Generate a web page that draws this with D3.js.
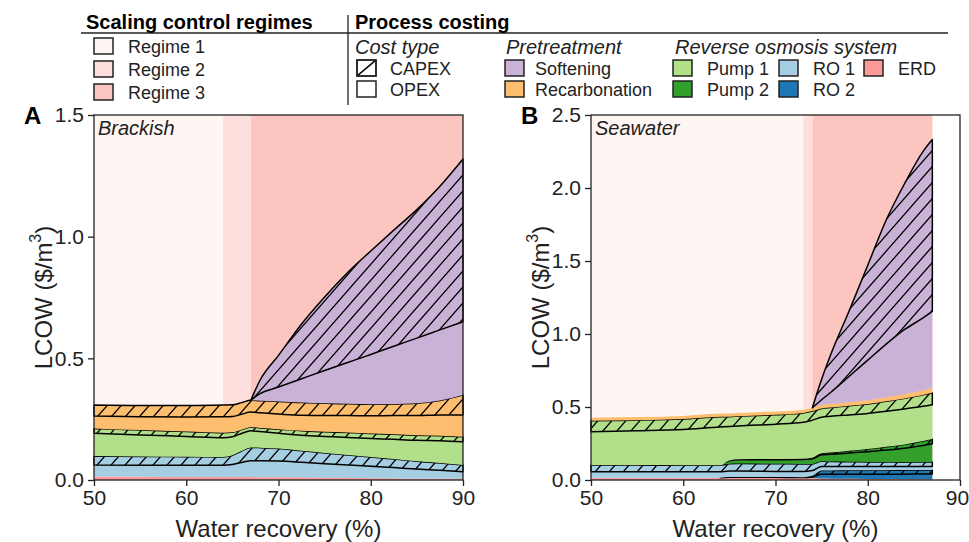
<!DOCTYPE html>
<html>
<head>
<meta charset="utf-8">
<script src="https://cdn.jsdelivr.net/npm/d3@7"></script>
<style>
body { margin: 0; background: #fff; }
text { font-family: "Liberation Sans", Arial, sans-serif; }
</style>
</head>
<body>
<div class="chart"></div>
<script>
const width = 969,
      height = 542;

// ---- panel A: brackish ----
const recA        = [50, 55, 60, 64, 65, 66, 67, 68, 70, 72.5, 75, 77.5, 80, 82.5, 85, 87.5, 90];
const erdA        = [0.014, 0.013, 0.012, 0.012, 0.012, 0.012, 0.012, 0.011, 0.011, 0.010, 0.009, 0.008, 0.007, 0.006, 0.005, 0.005, 0.004];
const ro1OpexA    = [0.048, 0.048, 0.049, 0.049, 0.052, 0.060, 0.067, 0.068, 0.067, 0.063, 0.058, 0.054, 0.050, 0.045, 0.040, 0.035, 0.030];
const ro1CapexA   = [0.037, 0.036, 0.035, 0.034, 0.038, 0.047, 0.055, 0.054, 0.051, 0.047, 0.044, 0.041, 0.038, 0.035, 0.032, 0.030, 0.028];
const pump1OpexA  = [0.093, 0.088, 0.083, 0.079, 0.076, 0.072, 0.068, 0.066, 0.063, 0.064, 0.068, 0.072, 0.076, 0.081, 0.086, 0.091, 0.095];
const pump1CapexA = [0.020, 0.020, 0.020, 0.020, 0.018, 0.016, 0.015, 0.015, 0.017, 0.018, 0.019, 0.020, 0.020, 0.021, 0.021, 0.021, 0.021];
const recarbOpexA = [0.051, 0.055, 0.060, 0.066, 0.065, 0.063, 0.062, 0.062, 0.062, 0.064, 0.067, 0.070, 0.073, 0.077, 0.081, 0.085, 0.089];
const recarbCapexA= [0.045, 0.046, 0.047, 0.048, 0.048, 0.048, 0.049, 0.050, 0.052, 0.052, 0.050, 0.048, 0.047, 0.047, 0.050, 0.060, 0.082];
const softOpexA   = [0, 0, 0, 0, 0, 0, 0, 0.029, 0.059, 0.098, 0.135, 0.170, 0.205, 0.238, 0.268, 0.290, 0.301];
const softCapexA  = [0, 0, 0, 0, 0, 0, 0, 0.055, 0.130, 0.225, 0.302, 0.370, 0.425, 0.477, 0.528, 0.590, 0.669];

// ---- panel B: seawater ----
const recB        = [50, 55, 60, 64, 65, 66, 70, 73, 74, 75, 76, 78, 80, 82, 84, 86, 87];
const erdB        = [0.016, 0.016, 0.016, 0.016, 0.015, 0.015, 0.014, 0.013, 0.013, 0.010, 0.009, 0.008, 0.007, 0.006, 0.005, 0.005, 0.004];
const ro2OpexB    = [0, 0, 0, 0, 0.004, 0.004, 0.004, 0.004, 0.008, 0.030, 0.031, 0.032, 0.033, 0.034, 0.035, 0.036, 0.037];
const ro2CapexB   = [0, 0, 0, 0, 0.002, 0.002, 0.002, 0.002, 0.008, 0.025, 0.025, 0.026, 0.027, 0.027, 0.028, 0.028, 0.028];
const ro1OpexB    = [0.041, 0.041, 0.041, 0.041, 0.040, 0.040, 0.039, 0.039, 0.036, 0.028, 0.027, 0.026, 0.025, 0.025, 0.024, 0.024, 0.024];
const ro1CapexB   = [0.046, 0.045, 0.044, 0.044, 0.050, 0.052, 0.052, 0.052, 0.045, 0.035, 0.034, 0.033, 0.032, 0.031, 0.030, 0.030, 0.030];
const pump2OpexB  = [0, 0, 0, 0, 0.020, 0.025, 0.028, 0.030, 0.035, 0.045, 0.050, 0.060, 0.070, 0.082, 0.096, 0.114, 0.125];
const pump2CapexB = [0, 0, 0, 0, 0.003, 0.004, 0.005, 0.006, 0.008, 0.010, 0.012, 0.015, 0.018, 0.022, 0.026, 0.030, 0.032];
const pump1OpexB  = [0.228, 0.235, 0.245, 0.262, 0.232, 0.228, 0.238, 0.249, 0.257, 0.247, 0.248, 0.246, 0.244, 0.244, 0.243, 0.238, 0.236];
const pump1CapexB = [0.075, 0.073, 0.072, 0.070, 0.068, 0.067, 0.065, 0.064, 0.062, 0.060, 0.060, 0.062, 0.064, 0.068, 0.072, 0.078, 0.082];
const recarbOpexB = [0.021, 0.021, 0.021, 0.022, 0.022, 0.022, 0.022, 0.022, 0.023, 0.024, 0.024, 0.025, 0.026, 0.028, 0.030, 0.032, 0.034];
const softOpexB   = [0, 0, 0, 0, 0, 0, 0, 0, 0, 0.036, 0.081, 0.178, 0.275, 0.364, 0.442, 0.496, 0.523];
const softCapexB  = [0, 0, 0, 0, 0, 0, 0, 0, 0, 0.140, 0.260, 0.450, 0.650, 0.850, 1.000, 1.140, 1.177];

// regime boundaries (water recovery %)
const regimesA = [50, 64, 67, 90];
const regimesB = [50, 73, 74, 87];

const xTicks  = [50, 60, 70, 80, 90];
const yTicksA = [0, 0.5, 1.0, 1.5];
const yTicksB = [0, 0.5, 1.0, 1.5, 2.0, 2.5];

const regimeLabels = ["Regime 1", "Regime 2", "Regime 3"];
const regimeColors = ["#fff5f2", "#fde0dd", "#fcc5c0"];

const col = {
    soft: "#cab2d6", recarb: "#fdbf6f", pump1: "#b2df8a", pump2: "#33a02c",
    ro1: "#a6cee3", ro2: "#1f78b4", erd: "#fb9a99"
};

const svg = d3.select(".chart")
              .append("svg")
              .attr("width", width)
              .attr("height", height)
              .attr("viewBox", [0, 0, width, height]);

// hatch pattern (CAPEX)
const defs = svg.append("defs");
const hw = 14, hh = 16;
defs.append("pattern")
    .attr("id", "hatch")
    .attr("patternUnits", "userSpaceOnUse")
    .attr("width", hw).attr("height", hh)
    .append("path")
    .attr("d", `M0,${hh}L${hw},0M${-hw/4},${hh/4}L${hw/4},${-hh/4}M${3*hw/4},${5*hh/4}L${5*hw/4},${3*hh/4}`)
    .attr("stroke", "#000").attr("stroke-width", 1.3);
defs.append("pattern")
    .attr("id", "hatchLeg")
    .attr("patternUnits", "userSpaceOnUse")
    .attr("x", 357).attr("y", 60)
    .attr("width", 19).attr("height", 16)
    .append("path")
    .attr("d", "M0,16L19,0")
    .attr("stroke", "#000").attr("stroke-width", 1.5);

function build_panel(p){
    const x = d3.scaleLinear().domain([50, 90]).range(p.xr);
    const y = d3.scaleLinear().domain(p.yd).range([480, 115]);
    const g = svg.append("g").classed("panel", true);

    // regime bands
    g.selectAll("rect.regime").data(d3.range(3)).enter().append("rect")
     .classed("regime", true)
     .attr("x", i => x(p.regimes[i]))
     .attr("width", i => x(p.regimes[i+1]) - x(p.regimes[i]))
     .attr("y", 115).attr("height", 365)
     .attr("fill", i => regimeColors[i]);

    const rows = p.rec.map((r, i) => {
        const o = {x: r};
        p.layers.forEach((l, j) => o[j] = l.v[i]);
        return o;
    });
    const series = d3.stack().keys(p.layers.map((l, j) => j))(rows);

    series.forEach((s, j) => {
        const l = p.layers[j];
        const nz = l.v.map((v, i) => v > 0 ? i : -1).filter(i => i >= 0);
        const start = Math.max(0, nz[0] - 1), stop = Math.min(l.v.length - 1, nz[nz.length - 1] + 1);
        const area = d3.area()
            .defined((d, i) => i >= start && i <= stop)
            .x(d => x(d.data.x))
            .y0(d => y(d[0]))
            .y1(d => y(d[1]))
            .curve(d3.curveMonotoneX);
        g.append("path").attr("d", area(s)).attr("fill", l.c);
        if (l.capex){
            g.append("path").attr("d", area(s))
             .attr("fill", "url(#hatch)")
             .attr("stroke", "#000").attr("stroke-width", 1.5)
             .attr("stroke-linejoin", "round");
        }
    });

    // frame
    g.append("rect").attr("x", p.xr[0]).attr("y", 115)
     .attr("width", p.xr[1] - p.xr[0]).attr("height", 365)
     .attr("fill", "none").attr("stroke", "#222").attr("stroke-width", 1.3);

    const ax = g.append("g").attr("transform", "translate(0,480)")
        .call(d3.axisBottom(x).tickValues(xTicks).tickSize(6).tickPadding(4).tickSizeOuter(0));
    const ay = g.append("g").attr("transform", `translate(${p.xr[0]},0)`)
        .call(d3.axisLeft(y).tickValues(p.yTicks).tickFormat(d3.format(".1f")).tickSize(6).tickPadding(4).tickSizeOuter(0));
    [ax, ay].forEach(a => {
        a.select(".domain").remove();
        a.selectAll("line").attr("stroke", "#222").attr("stroke-width", 1.3);
        a.selectAll("text").attr("font-size", 21).attr("fill", "#222")
         .style("font-family", "'Liberation Sans', Arial, sans-serif");
    });
    // keep the last tick label inside the picture
    if (p.xr[1] > 950) ax.selectAll("text").filter(d => d === 90).attr("dx", -3);

    const xm = (p.xr[0] + p.xr[1]) / 2;
    g.append("text").attr("x", xm).attr("y", 537).attr("text-anchor", "middle")
     .attr("font-size", 24).attr("fill", "#222").text("Water recovery (%)");

    const yl = g.append("text")
     .attr("transform", `translate(${p.xr[0] - 42},297.5)rotate(-90)`)
     .attr("text-anchor", "middle").attr("font-size", 24).attr("fill", "#222");
    yl.append("tspan").text("LCOW ($/m");
    yl.append("tspan").attr("dy", -11).attr("font-size", 16).text("3");
    yl.append("tspan").attr("dy", 11).text(")");

    g.append("text").attr("x", p.xr[0] - 70).attr("y", 124)
     .attr("font-size", 24).attr("font-weight", "bold").text(p.letter);
    g.append("text").attr("x", p.xr[0] + 4).attr("y", 135)
     .attr("font-size", 20).attr("font-style", "italic").attr("fill", "#222").text(p.title);
}

build_panel({
    letter: "A", title: "Brackish", xr: [94, 463], yd: [0, 1.5], yTicks: yTicksA,
    rec: recA, regimes: regimesA,
    layers: [
        {v: erdA, c: col.erd},
        {v: ro1OpexA, c: col.ro1},
        {v: ro1CapexA, c: col.ro1, capex: true},
        {v: pump1OpexA, c: col.pump1},
        {v: pump1CapexA, c: col.pump1, capex: true},
        {v: recarbOpexA, c: col.recarb},
        {v: recarbCapexA, c: col.recarb, capex: true},
        {v: softOpexA, c: col.soft},
        {v: softCapexA, c: col.soft, capex: true}
    ]
});

build_panel({
    letter: "B", title: "Seawater", xr: [591, 960], yd: [0, 2.5], yTicks: yTicksB,
    rec: recB, regimes: regimesB,
    layers: [
        {v: erdB, c: col.erd},
        {v: ro2OpexB, c: col.ro2},
        {v: ro2CapexB, c: col.ro2, capex: true},
        {v: ro1OpexB, c: col.ro1},
        {v: ro1CapexB, c: col.ro1, capex: true},
        {v: pump2OpexB, c: col.pump2},
        {v: pump2CapexB, c: col.pump2, capex: true},
        {v: pump1OpexB, c: col.pump1},
        {v: pump1CapexB, c: col.pump1, capex: true},
        {v: recarbOpexB, c: col.recarb},
        {v: softOpexB, c: col.soft},
        {v: softCapexB, c: col.soft, capex: true}
    ]
});

// ---- legend ----
var leg = svg.append("g").classed("legend", true);
leg.append("line").attr("x1", 81).attr("x2", 948).attr("y1", 33).attr("y2", 33)
   .attr("stroke", "#222").attr("stroke-width", 1.3);
leg.append("line").attr("x1", 348).attr("x2", 348).attr("y1", 15).attr("y2", 105)
   .attr("stroke", "#222").attr("stroke-width", 1.3);
leg.append("text").attr("x", 86).attr("y", 29).attr("font-size", 20).attr("font-weight", "bold").text("Scaling control regimes");
leg.append("text").attr("x", 355).attr("y", 29).attr("font-size", 20).attr("font-weight", "bold").text("Process costing");

function legBox(x, y, fill, label, tx){
    leg.append("rect").attr("x", x).attr("y", y).attr("width", 19).attr("height", 16)
       .attr("fill", fill).attr("stroke", "#222").attr("stroke-width", 1.5);
    leg.append("text").attr("x", tx).attr("y", y + 15).attr("font-size", 18).attr("fill", "#222").text(label);
}

regimeLabels.forEach((r, i) => legBox(94, 38 + i * 23, regimeColors[i], r, 128));

[["Cost type", 355], ["Pretreatment", 506], ["Reverse osmosis system", 675]].forEach(h => {
    leg.append("text").attr("x", h[1]).attr("y", 54).attr("font-size", 20)
       .attr("font-style", "italic").attr("fill", "#222").text(h[0]);
});

legBox(357, 60, "#fff", "CAPEX", 390);
leg.append("rect").attr("x", 357).attr("y", 60).attr("width", 19).attr("height", 16)
   .attr("fill", "url(#hatchLeg)").attr("stroke", "#222").attr("stroke-width", 1.5);
legBox(357, 81, "#fff", "OPEX", 390);
legBox(505, 60, col.soft, "Softening", 535);
legBox(505, 81, col.recarb, "Recarbonation", 535);
legBox(673, 60, col.pump1, "Pump 1", 707);
legBox(673, 81, col.pump2, "Pump 2", 707);
legBox(779, 60, col.ro1, "RO 1", 813);
legBox(779, 81, col.ro2, "RO 2", 813);
legBox(864, 60, col.erd, "ERD", 898);
</script>
</body>
</html>
